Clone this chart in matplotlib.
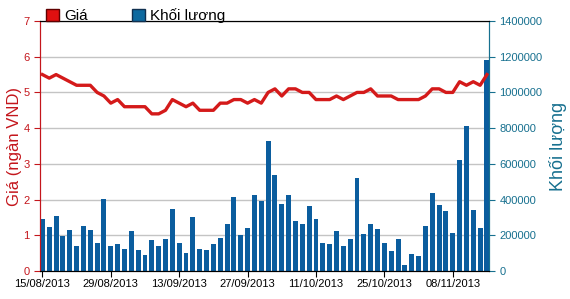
import matplotlib.pyplot as plt
from matplotlib.patches import Patch
from matplotlib.ticker import FuncFormatter

plt.rcParams['font.family'] = ['Liberation Sans', 'DejaVu Sans']

# Data (one point per trading day)
tick_labels = ['15/08/2013', '29/08/2013', '13/09/2013', '27/09/2013',
               '11/10/2013', '25/10/2013', '08/11/2013']

price = [5.5, 5.4, 5.5, 5.4, 5.3, 5.2, 5.2, 5.2, 5.0, 4.9,
         4.7, 4.8, 4.6, 4.6, 4.6, 4.6, 4.4, 4.4, 4.5, 4.8,
         4.7, 4.6, 4.7, 4.5, 4.5, 4.5, 4.7, 4.7, 4.8, 4.8,
         4.7, 4.8, 4.7, 5.0, 5.1, 4.9, 5.1, 5.1, 5.0, 5.0,
         4.8, 4.8, 4.8, 4.9, 4.8, 4.9, 5.0, 5.0, 5.1, 4.9,
         4.9, 4.9, 4.8, 4.8, 4.8, 4.8, 4.9, 5.1, 5.1, 5.0,
         5.0, 5.3, 5.2, 5.3, 5.2, 5.5]

volume = [292000, 244000, 310000, 198000, 230000, 140000, 254000, 230000, 158000, 406000,
          140000, 152000, 124000, 226000, 118000, 90000, 174000, 140000, 180000, 350000,
          158000, 102000, 304000, 124000, 118000, 152000, 186000, 264000, 416000, 202000,
          242000, 428000, 394000, 726000, 536000, 378000, 428000, 278000, 266000, 366000,
          294000, 158000, 152000, 226000, 142000, 180000, 520000, 208000, 266000, 238000,
          158000, 112000, 180000, 34000, 96000, 84000, 254000, 436000, 372000, 338000,
          214000, 620000, 812000, 344000, 242000, 1183000]

red = '#d41a1a'
axis_red = '#c4161c'
teal = '#17708f'
bar_blue = '#0b5d9e'

x = list(range(len(price)))

fig = plt.figure(figsize=(5.7, 2.99), dpi=100)
ax2 = fig.add_axes([0.0702, 0.0936, 0.7877, 0.8362])
ax = ax2.twinx()

# Volume bars on the right axis (drawn underneath)
ax2.bar(x, volume, width=0.72, color=bar_blue, zorder=2)
ax2.set_ylim(0, 1400000)
ax2.set_yticks(range(0, 1400001, 200000))
ax2.yaxis.tick_right()
ax2.yaxis.set_label_position('right')
ax2.grid(axis='y', color='#c4c4c4', linewidth=1, zorder=0)
ax2.set_axisbelow(True)
ax2.yaxis.set_major_formatter(FuncFormatter(lambda v, p: f'{int(v)}'))
ax2.tick_params(axis='y', colors=teal, labelsize=8, length=4, direction='out')
ax2.set_ylabel('Khối lượng', color=teal, fontsize=13, labelpad=5)

ax2.set_xlim(-0.35, 65.3)
ax2.set_xticks(range(0, 61, 10))
ax2.set_xticklabels(tick_labels)
ax2.tick_params(axis='x', colors='black', labelsize=8, length=4, direction='out', pad=2)

# Price line on the left axis (drawn on top)
ax.set_zorder(ax2.get_zorder() + 1)
ax.patch.set_visible(False)
ax.plot(x, price, color=red, linewidth=2.4, solid_joinstyle='round')
ax.set_ylim(0, 7)
ax.set_yticks(range(0, 8))
ax.yaxis.tick_left()
ax.yaxis.set_label_position('left')
ax.tick_params(axis='y', colors=axis_red, labelsize=8, length=4, direction='out')
ax.set_ylabel('Giá (ngàn VND)', color=axis_red, fontsize=12, labelpad=1)

for a in (ax, ax2):
    a.spines['left'].set_color(axis_red)
    a.spines['right'].set_color(teal)
    a.spines['top'].set_color('black')
    a.spines['bottom'].set_color('black')

handles = [Patch(facecolor='#e01010', edgecolor='#600000', label='Giá'),
           Patch(facecolor='#0e6aa0', edgecolor='#103050', label='Khối lượng')]
ax.legend(handles=handles, loc='lower left', bbox_to_anchor=(0.013, 0.99), ncol=2,
          frameon=False, fontsize=11, handlelength=0.85, handleheight=0.85,
          handletextpad=0.35, columnspacing=2.9, borderaxespad=0, borderpad=0)

fig.savefig('out.png', dpi=100)
